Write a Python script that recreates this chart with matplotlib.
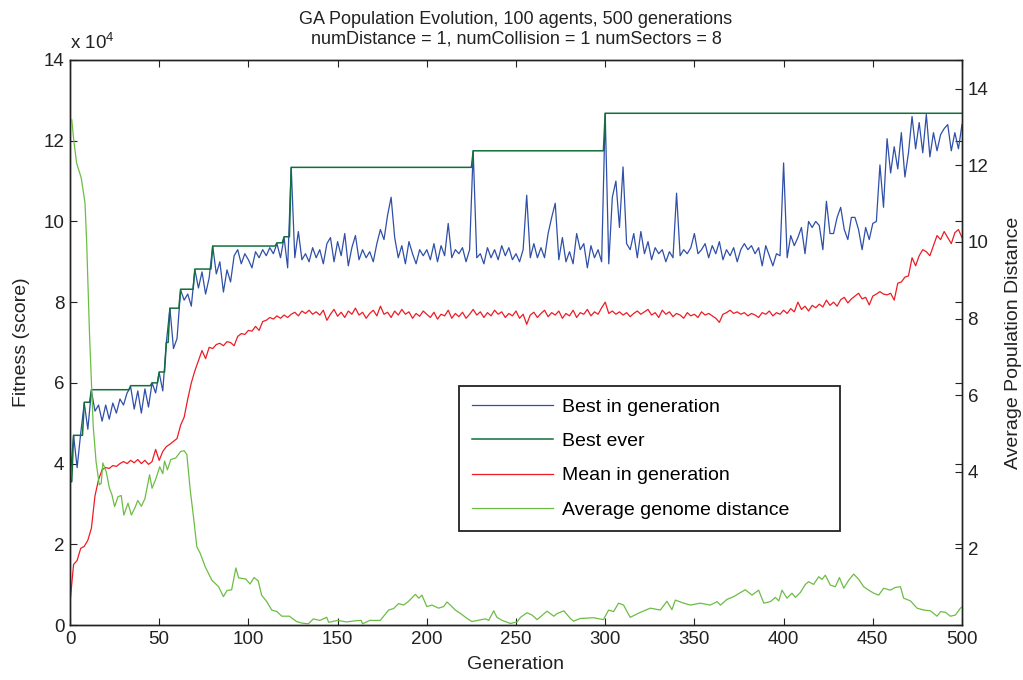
import numpy as np
import matplotlib
matplotlib.use("Agg")
import matplotlib.pyplot as plt

plt.rcParams['font.family'] = ['Liberation Sans', 'DejaVu Sans']
plt.rcParams['mathtext.fontset'] = 'custom'
plt.rcParams['mathtext.rm'] = 'Liberation Sans'
plt.rcParams['mathtext.default'] = 'regular'

# fitness values in units of 1e4, one value every 2 generations (0..500)
gens = np.arange(0, 501, 2)

best_in_gen = [
    3.6, 4.7, 3.9, 4.75, 5.5, 4.85, 5.8, 5.3, 5.45, 5.05,
    5.45, 5.1, 5.5, 5.25, 5.6, 5.45, 5.75, 5.9, 5.35, 5.8,
    5.25, 5.85, 5.4, 6.0, 5.75, 6.25, 5.8, 7.0, 7.85, 6.85,
    7.1, 8.3, 8.05, 8.2, 7.9, 8.8, 8.35, 8.75, 8.2, 8.6,
    9.39, 8.7, 9.0, 8.25, 8.8, 8.5, 9.15, 9.3, 8.95, 9.2,
    9.05, 8.85, 9.25, 9.1, 9.3, 9.15, 9.35, 9.2, 9.45, 9.1,
    9.6, 8.85, 11.34, 9.1, 9.75, 9.05, 9.2, 9.0, 9.35, 9.1,
    9.3, 8.95, 9.45, 9.6, 9.0, 9.5, 9.15, 9.7, 8.9, 9.35,
    9.65, 9.05, 9.3, 9.1, 9.25, 9.0, 9.45, 9.8, 9.55, 10.15,
    10.6, 9.6, 9.1, 9.4, 8.95, 9.5, 9.2, 8.95, 9.3, 9.15,
    9.3, 9.05, 9.45, 9.0, 9.4, 9.15, 9.95, 9.1, 9.3, 9.2,
    9.35, 9.0, 9.3, 11.75, 9.1, 9.2, 8.95, 9.35, 9.1, 9.3,
    9.05, 9.4, 9.15, 9.35, 9.05, 9.2, 9.0, 9.3, 10.65, 9.1,
    9.45, 9.1, 9.35, 9.1, 9.7, 10.1, 10.45, 9.05, 9.6, 9.0,
    9.25, 8.95, 9.7, 9.3, 9.45, 8.85, 9.4, 9.1, 9.3, 9.0,
    12.68, 8.95, 10.6, 11.0, 9.85, 11.35, 9.45, 9.3, 9.7, 9.1,
    9.75, 9.2, 9.5, 9.05, 9.35, 9.2, 9.3, 9.0, 9.25, 9.1,
    10.7, 9.15, 9.3, 9.2, 9.35, 9.7, 9.2, 9.3, 9.45, 9.1,
    9.4, 9.2, 9.5, 9.05, 9.3, 9.15, 9.35, 9.0, 9.3, 9.45,
    9.3, 9.4, 9.2, 9.35, 8.9, 9.4, 9.15, 8.9, 9.2, 9.15,
    11.45, 9.1, 9.65, 9.4, 9.6, 9.85, 9.2, 10.0, 9.85, 10.0,
    9.9, 9.3, 10.5, 9.7, 9.7, 10.1, 10.35, 9.8, 9.55, 10.1,
    10.1, 9.8, 9.3, 9.85, 9.55, 9.95, 10.0, 11.4, 10.35, 12.05,
    11.2, 11.85, 11.3, 12.2, 11.1, 11.7, 12.6, 11.8, 12.45, 11.7,
    12.65, 11.6, 12.2, 11.75, 12.15, 12.3, 12.4, 11.75, 12.2, 11.8,
    12.4,
]

mean_in_gen = [
    0.55, 1.5, 1.6, 1.9, 1.95, 2.1, 2.4, 3.2, 3.6, 3.85,
    3.9, 3.88, 3.95, 3.93, 4.0, 4.05, 4.0, 4.08, 4.02, 4.1,
    4.0, 4.08, 3.98, 4.05, 4.35, 4.08, 4.3, 4.42, 4.48, 4.55,
    4.62, 4.95, 5.15, 5.6, 6.0, 6.3, 6.55, 6.8, 6.6, 6.88,
    6.85, 6.95, 6.98, 6.92, 7.02, 7.0, 6.92, 7.15, 7.22, 7.2,
    7.3, 7.28, 7.4, 7.3, 7.52, 7.55, 7.62, 7.58, 7.66, 7.6,
    7.68, 7.62, 7.7, 7.75, 7.66, 7.78, 7.72, 7.8, 7.7, 7.76,
    7.68, 7.8, 7.55, 7.7, 7.82, 7.65, 7.75, 7.62, 7.78, 7.7,
    7.85, 7.68, 7.75, 7.6, 7.72, 7.8, 7.66, 7.9, 7.7, 7.75,
    7.62, 7.78, 7.68, 7.82, 7.7, 7.76, 7.6, 7.72, 7.65, 7.78,
    7.7, 7.62, 7.75, 7.58, 7.7, 7.66, 7.8, 7.6, 7.72, 7.64,
    7.75, 7.6, 7.7, 7.82, 7.68, 7.76, 7.62, 7.74, 7.66, 7.8,
    7.7, 7.76, 7.62, 7.72, 7.66, 7.78, 7.6, 7.7, 7.45, 7.68,
    7.75, 7.62, 7.72, 7.8, 7.64, 7.74, 7.68, 7.78, 7.6, 7.72,
    7.66, 7.8, 7.62, 7.74, 7.7, 7.82, 7.66, 7.76, 7.7, 7.86,
    8.0, 7.72, 7.78, 7.7, 7.76, 7.68, 7.74, 7.64, 7.72, 7.78,
    7.7, 7.76, 7.82, 7.68, 7.74, 7.62, 7.8, 7.7, 7.76, 7.64,
    7.72, 7.68, 7.6, 7.74, 7.66, 7.7, 7.62, 7.76, 7.68, 7.72,
    7.66, 7.6, 7.5, 7.7, 7.74, 7.8, 7.72, 7.76, 7.7, 7.74,
    7.66, 7.72, 7.68, 7.62, 7.74, 7.7, 7.78, 7.66, 7.74, 7.7,
    7.8, 7.72, 7.84, 7.76, 8.0, 7.82, 7.9, 7.78, 7.92, 7.86,
    7.95, 7.88, 8.05, 7.92, 8.0, 7.9, 8.06, 8.12, 7.98, 8.08,
    8.15, 8.22, 8.08, 8.12, 7.93, 8.15, 8.2, 8.26, 8.2, 8.18,
    8.22, 8.05, 8.47, 8.5, 8.62, 8.65, 9.1, 8.9, 9.15, 9.3,
    9.25, 9.15, 9.4, 9.65, 9.55, 9.75, 9.6, 9.45, 9.72, 9.8,
    9.6,
]

# best ever: generation where a new record starts, and its value (1e4)
best_ever_start = [0, 2, 8, 12, 34, 46, 50, 54, 56, 62, 70, 80, 116, 120, 124, 226, 300]
best_ever_value = [3.55, 4.7, 5.52, 5.83, 5.93, 6.0, 6.27, 7.0, 7.85, 8.32,
                   8.82, 9.39, 9.47, 9.62, 11.34, 11.75, 12.68]

# average genome distance (right axis)
dist_gen = [
    1, 2, 3.7, 6.3, 8.4, 9.3, 11, 13, 14.6, 16.4,
    17.5, 18.4, 20.3, 22.1, 23.5, 25, 26.9, 28.7, 30.2, 32.5,
    34.4, 36.3, 38, 40, 42, 44.6, 46, 48, 50.3, 52,
    53, 54.6, 56.5, 59.3, 62, 64, 65.5, 67.4, 69.2, 71.1,
    73, 75.8, 79.5, 83.3, 86, 88, 90.6, 93, 94.5, 98.6,
    100.9, 103.2, 105.5, 107.4, 110.3, 113.1, 116, 118.7, 123, 127,
    130, 133.6, 136.4, 140, 143.9, 145, 150, 155, 160, 163.2,
    164, 168, 173.9, 178.6, 181.4, 184.2, 187, 189.8, 193.6, 195.5,
    197.3, 200, 202.9, 206.6, 209.4, 211.3, 213.2, 216, 218.9, 222.6,
    225.3, 232.8, 234.7, 237.5, 239.3, 242.2, 246.9, 250.6, 252.5, 256.2,
    259, 261.8, 267.4, 271.2, 273.1, 276.8, 280.5, 282.3, 286, 293.5,
    299, 301.9, 304.7, 307.5, 310.3, 314, 319.7, 325.3, 330.9, 334.6,
    337.4, 339.3, 344, 347.7, 353.3, 358.9, 362.7, 364.6, 368.3, 372,
    378.5, 382.3, 386, 388.9, 392.6, 395.4, 397.3, 399.1, 401.9, 404.7,
    406.6, 409.4, 412.2, 414, 416.8, 419.7, 421.5, 423.4, 426.2, 429,
    431.3, 433.7, 436.5, 439.3, 442.1, 444.9, 447.7, 450.5, 453.3, 456.1,
    459.8, 462.6, 465.5, 467.3, 471.1, 474.8, 478.5, 482.3, 486, 488,
    490.8, 493.5, 496.3, 499.1, 500,
]
dist_val = [
    13.19, 12.7, 12.06, 11.67, 11.02, 10.05, 7.5, 5.2, 4.27, 3.66,
    3.7, 4.23, 4.0, 3.57, 3.4, 3.09, 3.35, 3.38, 2.87, 3.18,
    2.87, 3.05, 3.25, 3.1, 3.3, 3.92, 3.57, 3.8, 4.13, 3.95,
    4.28, 4.05, 4.32, 4.36, 4.53, 4.55, 4.45, 3.52, 2.83, 2.04,
    1.87, 1.52, 1.17, 1.0, 0.74, 0.9, 0.92, 1.49, 1.23, 1.2,
    1.07, 1.24, 1.15, 0.78, 0.61, 0.39, 0.35, 0.23, 0.23, 0.09,
    0.05, 0.03, 0.16, 0.12, 0.2, 0.07, 0.12, 0.08, 0.11, 0.12,
    0.03, 0.12, 0.12, 0.39, 0.43, 0.56, 0.52, 0.62, 0.8, 0.7,
    0.78, 0.48, 0.52, 0.44, 0.48, 0.6, 0.52, 0.39, 0.3, 0.17,
    0.09, 0.16, 0.12, 0.37, 0.2, 0.12, 0.04, 0.08, 0.2, 0.32,
    0.26, 0.14, 0.36, 0.23, 0.3, 0.37, 0.17, 0.1, 0.17, 0.19,
    0.14, 0.39, 0.35, 0.57, 0.52, 0.2, 0.33, 0.44, 0.39, 0.62,
    0.4, 0.65, 0.57, 0.52, 0.57, 0.52, 0.61, 0.52, 0.67, 0.74,
    0.92, 0.78, 0.91, 0.57, 0.61, 0.72, 0.63, 0.91, 0.7, 0.83,
    0.72, 0.85, 1.06, 1.13, 1.06, 1.26, 1.19, 1.3, 1.04, 1.0,
    1.24, 0.96, 1.17, 1.33, 1.19, 1.0, 0.91, 0.83, 0.78, 0.96,
    0.91, 0.98, 1.0, 0.7, 0.63, 0.44, 0.39, 0.37, 0.23, 0.35,
    0.33, 0.23, 0.26, 0.44, 0.47,
]

# best ever held at each generation
all_gens = np.arange(0, 501)
idx = np.searchsorted(best_ever_start, all_gens, side='right') - 1
best_ever = np.array(best_ever_value)[idx]

c_blue = '#2f4fa8'
c_dark = '#11703a'
c_red = '#ed1c24'
c_light = '#6cbd45'
c_text = '#222222'

fig = plt.figure(figsize=(10.23, 6.80), dpi=100)
ax = fig.add_axes([70 / 1023, 1 - 625 / 680, 892 / 1023, 565 / 680])
ax2 = ax.twinx()

l1, = ax.plot(gens, best_in_gen, color=c_blue, lw=0.9, label='Best in generation')
l2, = ax.plot(all_gens, best_ever, color=c_dark, lw=1.1, label='Best ever')
l3, = ax.plot(gens, mean_in_gen, color=c_red, lw=0.9, label='Mean in generation')
l4, = ax2.plot(dist_gen, dist_val, color=c_light, lw=0.9, label='Average genome distance')

ax.set_xlim(0, 500)
ax.set_ylim(0, 14)
ax.set_xticks(np.arange(0, 501, 50))
ax.set_yticks(np.arange(0, 15, 2))
ax2.set_ylim(0, 14.75)
ax2.set_yticks(np.arange(2, 15, 2))

for a in (ax, ax2):
    a.tick_params(direction='in', length=5, width=0.8, labelsize=13.5, colors=c_text)
    for s in a.spines.values():
        s.set_linewidth(1.0)
        s.set_color(c_text)
ax.tick_params(top=True, right=True, pad=4)
ax2.tick_params(pad=4)

ax.set_xlabel('Generation', fontsize=14, labelpad=6, color=c_text)
ax.set_ylabel('Fitness (score)', fontsize=14, labelpad=10, color=c_text)
ax2.set_ylabel('Average Population Distance', fontsize=14, labelpad=12, color=c_text)
ax.set_title('GA Population Evolution, 100 agents, 500 generations\n'
             'numDistance = 1, numCollision = 1 numSectors = 8',
             fontsize=13, pad=12, linespacing=1.2, color=c_text)
ax.text(0.0, 1.012, r'x 10$^{4}$', transform=ax.transAxes, fontsize=13.5,
        ha='left', va='bottom', color=c_text)

leg = ax2.legend(handles=[l1, l2, l3, l4], loc='lower left',
                 bbox_to_anchor=(0.436, 0.166, 0.427, 0.258), mode='expand',
                 borderaxespad=0, fontsize=14, handlelength=4.2,
                 handletextpad=0.45, labelspacing=0.85, borderpad=0.65,
                 fancybox=False, framealpha=1)
leg.get_frame().set_edgecolor(c_text)
leg.get_frame().set_linewidth(1.3)

fig.savefig('out.png', dpi=100)
